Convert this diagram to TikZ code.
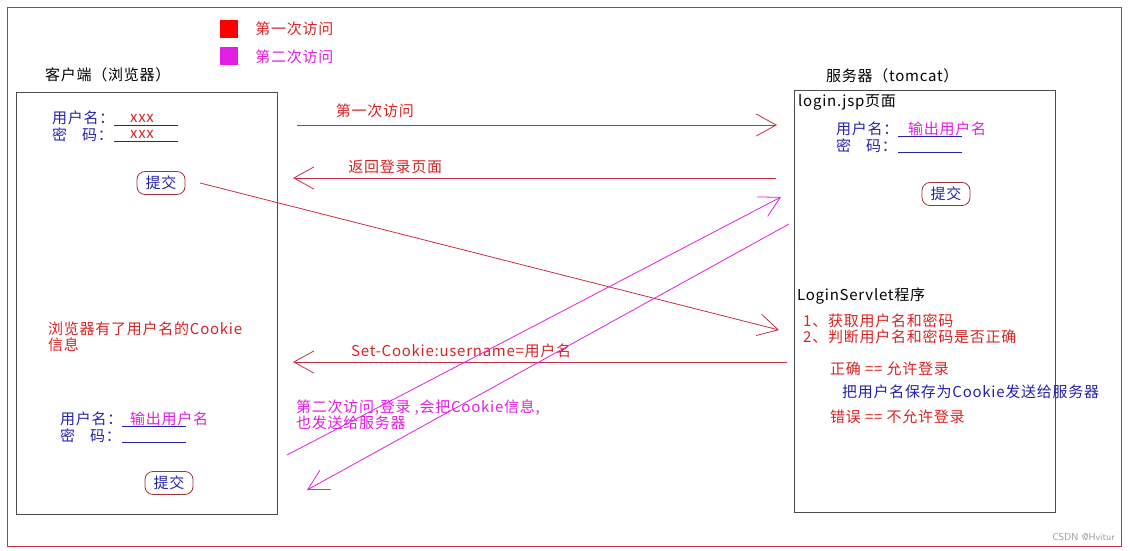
\documentclass[tikz,border=0pt]{standalone}
\usepackage{fontspec}
\setmainfont[LetterSpace=5]{Noto Sans CJK SC}
\usetikzlibrary{positioning,arrows.meta}
\definecolor{lnred}{RGB}{200,45,65}
\definecolor{txred}{RGB}{215,35,35}
\definecolor{txmag}{RGB}{225,30,225}
\definecolor{txblue}{RGB}{35,35,170}
\definecolor{btnred}{RGB}{160,50,60}
\tikzset{
  pane/.style={draw=black!70,line width=0.9pt,minimum width=261pt,minimum height=422pt,inner sep=0pt},
  txt/.style={anchor=west,inner sep=0pt,align=left,font=\fontsize{15}{16}\selectfont},
  key/.style={minimum size=18pt,inner sep=0pt},
  btn/.style={draw=btnred,line width=0.8pt,rounded corners=8pt,minimum width=48pt,minimum height=23pt,
    inner sep=0pt,text=txblue,font=\fontsize{15}{16}\selectfont},
  field/.style={draw=txblue,line width=0.8pt},
  msg/.style={draw=lnred,line width=0.8pt,-{Straight Barb[length=20pt,width=22pt]}},
  msgb/.style={msg,draw=txmag},
}
\begin{document}
\begin{tikzpicture}[x=1pt,y=-1pt]
  \useasboundingbox (0,0) rectangle (1130,551);
  \draw[lnred,line width=1pt] (7,8) rectangle (1121,546);

  % legend
  \node[key,fill=red] (key1) at (229,29) {};
  \node[txt,text=txred,right=17pt of key1] (lab1) {第一次访问};
  \node[key,fill=txmag,below=9pt of key1] (key2) {};
  \node[txt,text=txmag,right=17pt of key2] (lab2) {第二次访问};

  % client side
  \node[pane] (cbox) at (146.5,303) {};
  \node[txt] (ctitle) at (45,75) {客户端（浏览器）};
  \node[txt,text=txblue] (cuser) at (52,118) {用户名：};
  \node[txt,text=txblue] (cpass) at (52,135) {密\hspace{1em}码：};
  \draw[field] (114,125) -- (178,125);
  \draw[field] (114,141) -- (178,141);
  \node[txt,text=txred,anchor=center] (cxu) at (142,118) {xxx};
  \node[txt,text=txred,anchor=center] (cxp) at (142,134) {xxx};
  \node[btn] (cbtn) at (161,183) {提交};
  \node[txt,text=txred] (cnote) at (48,336.5) {浏览器有了用户名的Cookie\\信息};
  \node[txt,text=txblue] (cuser2) at (60,419) {用户名：};
  \node[txt,text=txblue] (cpass2) at (60,436) {密\hspace{1em}码：};
  \draw[field] (122,426) -- (186,426);
  \draw[field] (122,442) -- (186,442);
  \node[txt,text=txmag] (cout) at (130,419) {输出用户名};
  \node[btn] (cbtn2) at (169,483) {提交};

  % server side
  \node[pane] (sbox) at (924.5,301) {};
  \node[txt] (stitle) at (826,76) {服务器（tomcat）};
  \node[txt] (jsp) at (798,102) {login.jsp页面};
  \node[txt,text=txblue] (suser) at (836,129) {用户名：};
  \node[txt,text=txblue] (spass) at (836,146) {密\hspace{1em}码：};
  \draw[field] (898,136) -- (962,136);
  \draw[field] (898,152) -- (962,152);
  \node[txt,text=txmag] (sout) at (908,129) {输出用户名};
  \node[btn] (sbtn) at (946,194) {提交};
  \node[txt] (servlet) at (797,296) {LoginServlet程序};
  \node[txt,text=txred] (steps) at (803,329) {1、获取用户名和密码\\2、判断用户名和密码是否正确};
  \node[txt,text=txred] (okay) at (830,369) {正确 == 允许登录};
  \node[txt,text=txblue] (save) at (842,392) {把用户名保存为Cookie发送给服务器};
  \node[txt,text=txred] (deny) at (830,417) {错误 == 不允许登录};

  % messages
  \coordinate (r1a) at (297,125);
  \coordinate (r1b) at (777,125);
  \coordinate (r2a) at (776,178);
  \coordinate (r2b) at (293,178);
  \coordinate (r3a) at (200,183);
  \coordinate (r3b) at (779,330);
  \coordinate (r4a) at (787,362);
  \coordinate (r4b) at (293,362);
  \coordinate (m1a) at (287,455);
  \coordinate (m1b) at (781,197);
  \coordinate (m2a) at (789,224);
  \coordinate (m2b) at (307,490);
  \draw[msg] (r1a) -- node[txt,text=txred,pos=0.08,anchor=south west,yshift=7pt] (first) {第一次访问} (r1b);
  \draw[msg] (r2a) -- node[txt,text=txred,pos=0.886,anchor=south west,yshift=4pt] (back) {返回登录页面} (r2b);
  \draw[msg] (r3a) -- (r3b);
  \draw[msg] (r4a) -- node[txt,text=txred,pos=0.883,anchor=south west,yshift=4pt] (setck) {Set-Cookie:username=用户名} (r4b);
  \draw[msgb] (m1a) -- (m1b);
  \draw[msgb] (m2a) -- (m2b);
  \node[txt,text=txmag] (second) at (296,414.5) {第二次访问,登录 ,会把Cookie信息,\\也发送给服务器};

  \node[anchor=east,inner sep=0pt,text=black!40,font=\sffamily\fontsize{10}{12}\selectfont] (mark) at (1115,537) {CSDN @Hvitur};
\end{tikzpicture}
\end{document}
